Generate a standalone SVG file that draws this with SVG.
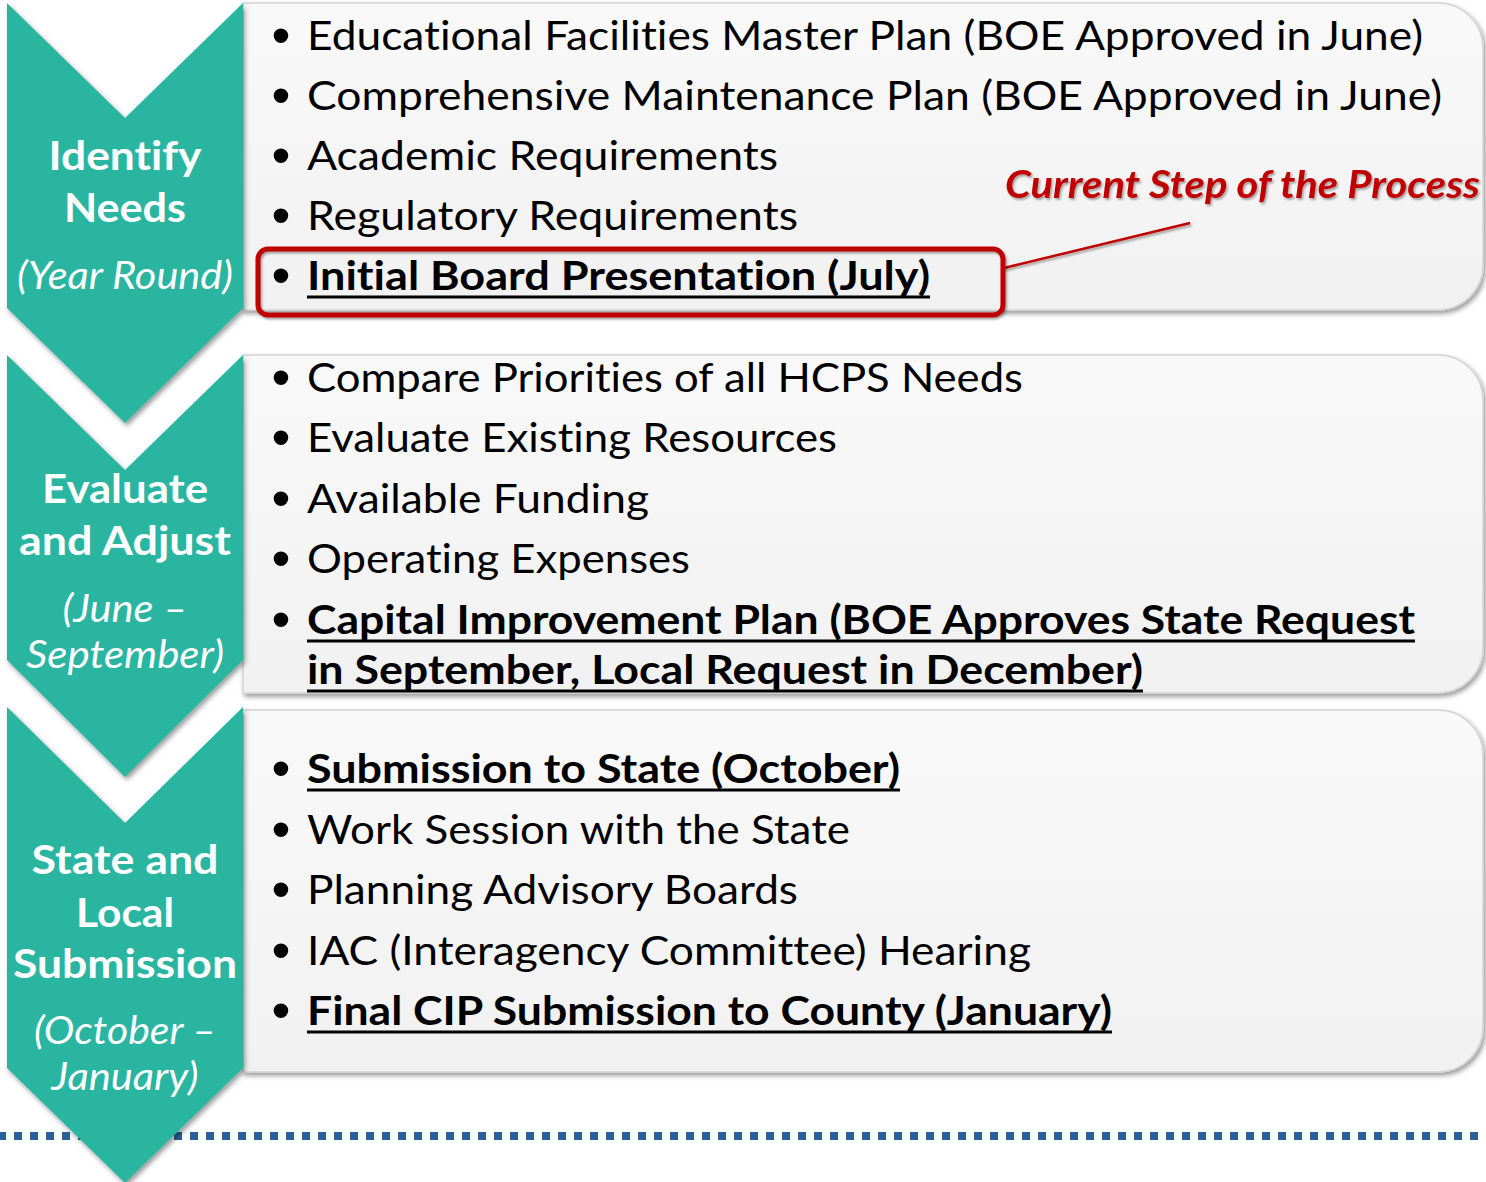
<svg xmlns="http://www.w3.org/2000/svg" width="1486" height="1182" viewBox="0 0 1486 1182">
<defs>
<style>
text{font-variant-ligatures:none;}
.chev{fill:#29B5A1;}
.panel{fill:url(#pg);stroke:#D4D4D4;stroke-width:1.5;}
.lbl{font-family:Lato,"Open Sans","DejaVu Sans",sans-serif;font-weight:bold;font-size:41px;fill:#FFFFFF;text-anchor:middle;}
.sub{font-family:Lato,"Open Sans","DejaVu Sans",sans-serif;font-style:italic;font-size:38px;fill:#FFFFFF;text-anchor:middle;}
.t{font-family:Lato,"Open Sans","DejaVu Sans",sans-serif;font-size:41px;fill:#000000;}
.b{font-family:Lato,"Open Sans","DejaVu Sans",sans-serif;font-size:41px;font-weight:bold;fill:#000000;}
.bul{font-family:"Liberation Sans",Arial,sans-serif;font-size:54px;fill:#000000;text-anchor:middle;}
.ul{stroke:#000000;stroke-width:3;}
.red{font-family:Lato,"Open Sans","DejaVu Sans",sans-serif;font-size:38px;font-weight:bold;font-style:italic;fill:#C00000;}
</style>
<linearGradient id="pg" x1="0" y1="0" x2="0" y2="1">
<stop offset="0" stop-color="#F9F9F9"/>
<stop offset="1" stop-color="#F1F1F1"/>
</linearGradient>
<filter id="sh" x="-5%" y="-5%" width="110%" height="115%">
<feDropShadow dx="2" dy="3" stdDeviation="2.5" flood-color="#000" flood-opacity="0.4"/>
</filter>
<filter id="tsh" x="-5%" y="-20%" width="110%" height="150%">
<feDropShadow dx="1.5" dy="2" stdDeviation="1.2" flood-color="#000" flood-opacity="0.35"/>
</filter>
</defs>

<rect width="1486" height="1182" fill="#FFFFFF"/>

<g id="dashed-line">
<line x1="0" y1="1136" x2="1486" y2="1136" stroke="#2A6096" stroke-width="8" stroke-dasharray="8 8" stroke-dashoffset="2"/>
</g>

<g id="panel1">
<path class="panel" filter="url(#sh)" d="M243,3 H1438 A45,45 0 0 1 1483,48 V265 A45,45 0 0 1 1438,310 H243 Z"/>
<text class="bul" x="281" y="54">•</text>
<text class="t" x="307" y="50" textLength="1116" lengthAdjust="spacingAndGlyphs">Educational Facilities Master Plan (BOE Approved in June)</text>
<text class="bul" x="281" y="114">•</text>
<text class="t" x="307" y="110" textLength="1135" lengthAdjust="spacingAndGlyphs">Comprehensive Maintenance Plan (BOE Approved in June)</text>
<text class="bul" x="281" y="174">•</text>
<text class="t" x="307" y="170" textLength="471" lengthAdjust="spacingAndGlyphs">Academic Requirements</text>
<text class="bul" x="281" y="234">•</text>
<text class="t" x="307" y="230" textLength="491" lengthAdjust="spacingAndGlyphs">Regulatory Requirements</text>
<text class="bul" x="281" y="294">•</text>
<text class="b" x="307" y="290" textLength="623" lengthAdjust="spacingAndGlyphs">Initial Board Presentation (July)</text>
<line class="ul" x1="307" y1="297" x2="930" y2="297"/>
</g>

<g id="panel2">
<path class="panel" filter="url(#sh)" d="M243,355 H1438 A45,45 0 0 1 1483,400 V648 A45,45 0 0 1 1438,693 H243 Z"/>
<text class="bul" x="281" y="396">•</text>
<text class="t" x="307" y="392" textLength="716" lengthAdjust="spacingAndGlyphs">Compare Priorities of all HCPS Needs</text>
<text class="bul" x="281" y="456">•</text>
<text class="t" x="307" y="452" textLength="530" lengthAdjust="spacingAndGlyphs">Evaluate Existing Resources</text>
<text class="bul" x="281" y="517">•</text>
<text class="t" x="307" y="513" textLength="342" lengthAdjust="spacingAndGlyphs">Available Funding</text>
<text class="bul" x="281" y="577">•</text>
<text class="t" x="307" y="573" textLength="383" lengthAdjust="spacingAndGlyphs">Operating Expenses</text>
<text class="bul" x="281" y="638">•</text>
<text class="b" x="307" y="634" textLength="1108" lengthAdjust="spacingAndGlyphs">Capital Improvement Plan (BOE Approves State Request</text>
<line class="ul" x1="307" y1="641" x2="1415" y2="641"/>
<text class="b" x="307" y="684" textLength="836" lengthAdjust="spacingAndGlyphs">in September, Local Request in December)</text>
<line class="ul" x1="307" y1="691" x2="1143" y2="691"/>
</g>

<g id="panel3">
<path class="panel" filter="url(#sh)" d="M243,710 H1438 A45,45 0 0 1 1483,755 V1027 A45,45 0 0 1 1438,1072 H243 Z"/>
<text class="bul" x="281" y="787">•</text>
<text class="b" x="307" y="783" textLength="593" lengthAdjust="spacingAndGlyphs">Submission to State (October)</text>
<line class="ul" x1="307" y1="790" x2="900" y2="790"/>
<text class="bul" x="281" y="848">•</text>
<text class="t" x="307" y="844" textLength="543" lengthAdjust="spacingAndGlyphs">Work Session with the State</text>
<text class="bul" x="281" y="908">•</text>
<text class="t" x="307" y="904" textLength="491" lengthAdjust="spacingAndGlyphs">Planning Advisory Boards</text>
<text class="bul" x="281" y="969">•</text>
<text class="t" x="307" y="965" textLength="724" lengthAdjust="spacingAndGlyphs">IAC (Interagency Committee) Hearing</text>
<text class="bul" x="281" y="1029">•</text>
<text class="b" x="307" y="1025" textLength="805" lengthAdjust="spacingAndGlyphs">Final CIP Submission to County (January)</text>
<line class="ul" x1="307" y1="1032" x2="1112" y2="1032"/>
</g>

<g id="chevron1">
<polygon class="chev" filter="url(#sh)" points="7,3 125,118 243,3 243,308 125,423 7,308"/>
<text class="lbl" x="125" y="170" textLength="153" lengthAdjust="spacingAndGlyphs">Identify</text>
<text class="lbl" x="125" y="222" textLength="122" lengthAdjust="spacingAndGlyphs">Needs</text>
<text class="sub" x="125" y="289" textLength="216" lengthAdjust="spacingAndGlyphs">(Year Round)</text>
</g>

<g id="chevron2">
<polygon class="chev" filter="url(#sh)" points="7,355 125,470 243,355 243,660 125,777 7,660"/>
<text class="lbl" x="125" y="503" textLength="166" lengthAdjust="spacingAndGlyphs">Evaluate</text>
<text class="lbl" x="125" y="555" textLength="212" lengthAdjust="spacingAndGlyphs">and Adjust</text>
<text class="sub" x="125" y="622" textLength="125" lengthAdjust="spacingAndGlyphs">(June –</text>
<text class="sub" x="125" y="668" textLength="198" lengthAdjust="spacingAndGlyphs">September)</text>
</g>

<g id="chevron3">
<polygon class="chev" filter="url(#sh)" points="7,707 125,823 243,707 243,1068 125,1183 7,1068"/>
<text class="lbl" x="125" y="874" textLength="187" lengthAdjust="spacingAndGlyphs">State and</text>
<text class="lbl" x="125" y="927" textLength="98" lengthAdjust="spacingAndGlyphs">Local</text>
<text class="lbl" x="125" y="978" textLength="224" lengthAdjust="spacingAndGlyphs">Submission</text>
<text class="sub" x="125" y="1044" textLength="182" lengthAdjust="spacingAndGlyphs">(October –</text>
<text class="sub" x="125" y="1090" textLength="147" lengthAdjust="spacingAndGlyphs">January)</text>
</g>

<g id="connectors">
<line x1="1004" y1="268" x2="1190" y2="223" stroke="#C00000" stroke-width="2.5" filter="url(#tsh)"/>
</g>

<g id="callout-box">
<rect x="258" y="249" width="745" height="66" rx="10" ry="10" fill="none" stroke="#C00000" stroke-width="5" filter="url(#tsh)"/>
</g>

<g id="callout-label">
<text class="red" x="1005" y="198" textLength="475" lengthAdjust="spacingAndGlyphs" filter="url(#tsh)">Current Step of the Process</text>
</g>
</svg>
